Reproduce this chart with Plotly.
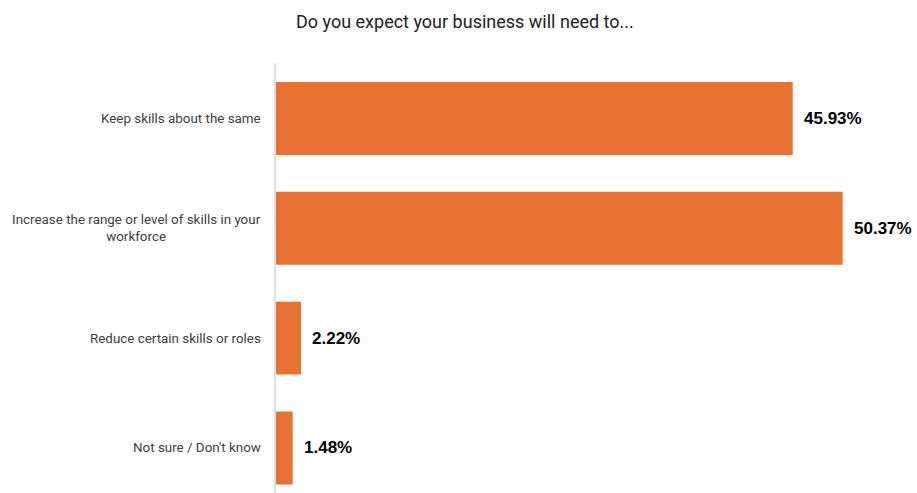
import plotly.graph_objects as go

# Survey responses
categories = [
    "Keep skills about the same",
    "Increase the range or level of skills in your<br>workforce",
    "Reduce certain skills or roles",
    "Not sure / Don't know",
]
shares = [45.93, 50.37, 2.22, 1.48]

BAR_COLOR = "#E97132"
LABEL_FONT = "Roboto, sans-serif"

positions = list(range(len(categories)))

fig = go.Figure(
    go.Bar(
        x=shares,
        y=positions,
        orientation="h",
        marker=dict(color=BAR_COLOR, line=dict(width=0)),
        width=0.664,
        hoverinfo="skip",
    )
)

annotations = []
# Category labels, right-aligned to the axis, lines centred within each label
for pos, label in zip(positions, categories):
    annotations.append(dict(
        x=0, xref="paper", y=pos, yref="y",
        text=label, showarrow=False,
        xanchor="right", yanchor="middle", align="center",
        xshift=-13,
        font=dict(family=LABEL_FONT, size=13.4, color="#404040"),
    ))
# Value labels beside each bar
for pos, val in zip(positions, shares):
    annotations.append(dict(
        x=val, xref="x", y=pos, yref="y",
        text=f"<b>{val:.2f}%</b>", showarrow=False,
        xanchor="left", yanchor="middle",
        xshift=9,
        font=dict(family="Liberation Sans, Arial, sans-serif", size=17, color="#000000"),
    ))

fig.update_layout(
    width=917,
    height=493,
    margin=dict(l=276, r=11, t=63, b=0),
    paper_bgcolor="white",
    plot_bgcolor="white",
    showlegend=False,
    title=dict(
        text="Do you expect your business will need to...",
        x=0.507, xanchor="center",
        y=1 - 22 / 493, yanchor="middle",
        font=dict(family=LABEL_FONT, size=18, color="#222222"),
    ),
    xaxis=dict(
        range=[0, 56],
        showgrid=False, zeroline=False, showticklabels=False,
        showline=False, fixedrange=True,
    ),
    yaxis=dict(
        range=[3.41, -0.505],
        showgrid=False, zeroline=False, showticklabels=False,
        showline=True, linecolor="#E0E0E0", linewidth=1.5,
        fixedrange=True,
    ),
    annotations=annotations,
)

fig.write_html("out.html")
